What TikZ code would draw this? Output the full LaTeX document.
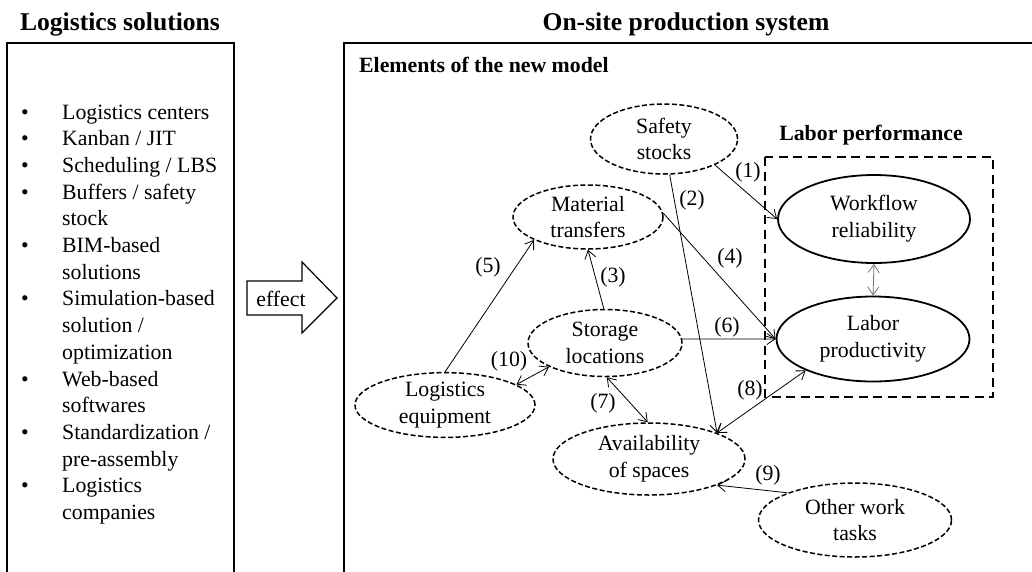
\documentclass[tikz,border=0pt]{standalone}
\usepackage{fontspec}
\setmainfont{Liberation Serif}
\usepackage{tikz}
\usetikzlibrary{arrows.meta, shapes.geometric}

\begin{document}
\begin{tikzpicture}[
    x=1pt, y=-1pt,
    font=\fontsize{21.8}{26.7}\selectfont,
    panel/.style={draw, line width=2pt},
    heading/.style={font=\fontsize{25.6}{30}\selectfont\bfseries, inner sep=0pt, anchor=base},
    subhead/.style={font=\fontsize{21.8}{26.7}\selectfont\bfseries, inner sep=0pt},
    elem/.style={ellipse, draw, line width=1.5pt, dash pattern=on 5pt off 2.5pt, inner sep=0pt, align=center},
    perf/.style={ellipse, draw, line width=1.8pt, inner sep=0pt, align=center},
    link/.style={line width=0.8pt, -{Straight Barb[length=8pt, width=11pt]}},
    twoway/.style={line width=0.8pt, {Straight Barb[length=8pt, width=11pt]}-{Straight Barb[length=8pt, width=11pt]}},
    num/.style={inner sep=0pt},
  ]

  \useasboundingbox (0,0) rectangle (1032,571);
  \clip (0,0) rectangle (1032,571);

  % --- headings ---
  \node[heading] (lhead) at (120,30) {Logistics solutions};
  \node[heading] (rhead) at (686,30) {On-site production system};

  % --- the two panels, open at the bottom ---
  \draw[panel] (7,43) rectangle (234,600);
  \draw[panel] (344,43) rectangle (1060,600);

  % --- list of solutions ---
  \node[anchor=base west, inner sep=0pt] (solutions) at (21,119) {%
    \begin{tabular}[t]{@{}p{41pt}@{}l@{}}
      \textbullet & Logistics centers\\
      \textbullet & Kanban / JIT\\
      \textbullet & Scheduling / LBS\\
      \textbullet & Buffers / safety\\
                  & stock\\
      \textbullet & BIM-based\\
                  & solutions\\
      \textbullet & Simulation-based\\
                  & solution /\\
                  & optimization\\
      \textbullet & Web-based\\
                  & softwares\\
      \textbullet & Standardization /\\
                  & pre-assembly\\
      \textbullet & Logistics\\
                  & companies
    \end{tabular}};

  % --- effect arrow ---
  \draw[line width=1.2pt] (247,281) -- (302,281) -- (302,262) -- (337,298)
    -- (302,333) -- (302,315) -- (247,315) -- cycle;
  \node[anchor=base, inner sep=0pt] (effect) at (281,306) {effect};

  % --- model elements ---
  \node[subhead, anchor=base west] (model) at (359,72) {Elements of the new model};

  \node[elem, minimum width=147, minimum height=70] (safety) at (664,139) {Safety\\stocks};
  \node[elem, minimum width=150, minimum height=64] (transfer) at (588,217) {Material\\transfers};
  \node[elem, minimum width=154, minimum height=67] (storage) at (605,343) {Storage\\locations};
  \node[elem, minimum width=180, minimum height=63] (equip) at (445,405) {Logistics\\equipment};
  \node[elem, minimum width=192, minimum height=72] (spaces) at (649,459) {Availability\\of spaces};
  \node[elem, minimum width=193, minimum height=74] (other) at (855,520) {Other work\\tasks};

  % --- labor performance ---
  \node[subhead, anchor=base] (labor) at (871,140) {Labor performance};
  \draw[line width=1.6pt, dash pattern=on 9pt off 5.5pt] (765,157) rectangle (993,397);

  \node[perf, minimum width=192, minimum height=88] (workflow) at (874,219) {Workflow\\reliability};
  \node[perf, minimum width=193, minimum height=85] (labprod) at (873,339) {Labor\\productivity};

  % --- connectors ---
  \draw[link] (safety.-27) -- (workflow.west);
  \draw[link] (safety.-81) -- (spaces.21);
  \draw[link] (storage.92) -- (transfer.-90);
  \draw[link] (transfer.3) -- (labprod.west);
  \draw[link] (equip.90) -- (transfer.-157);
  \draw[link] (storage.3) -- (labprod.west);
  \draw[twoway] (storage.-87) -- (spaces.92);
  \draw[twoway] (spaces.21) -- (labprod.-155);
  \draw[link] (other.158) -- (spaces.-21);
  \draw[twoway] (equip.16) -- (storage.-157);
  \draw[twoway, black!55] (workflow.south) -- (labprod.north);

  % --- connector numbers ---
  \node[num] (n1) at (748,172) {(1)};
  \node[num] (n2) at (692,200) {(2)};
  \node[num] (n3) at (613,277) {(3)};
  \node[num] (n4) at (730,258) {(4)};
  \node[num] (n5) at (488,267) {(5)};
  \node[num] (n6) at (727,327) {(6)};
  \node[num] (n7) at (603,403) {(7)};
  \node[num] (n8) at (750,390) {(8)};
  \node[num] (n9) at (768,475) {(9)};
  \node[num] (n10) at (509,361) {(10)};

\end{tikzpicture}
\end{document}
